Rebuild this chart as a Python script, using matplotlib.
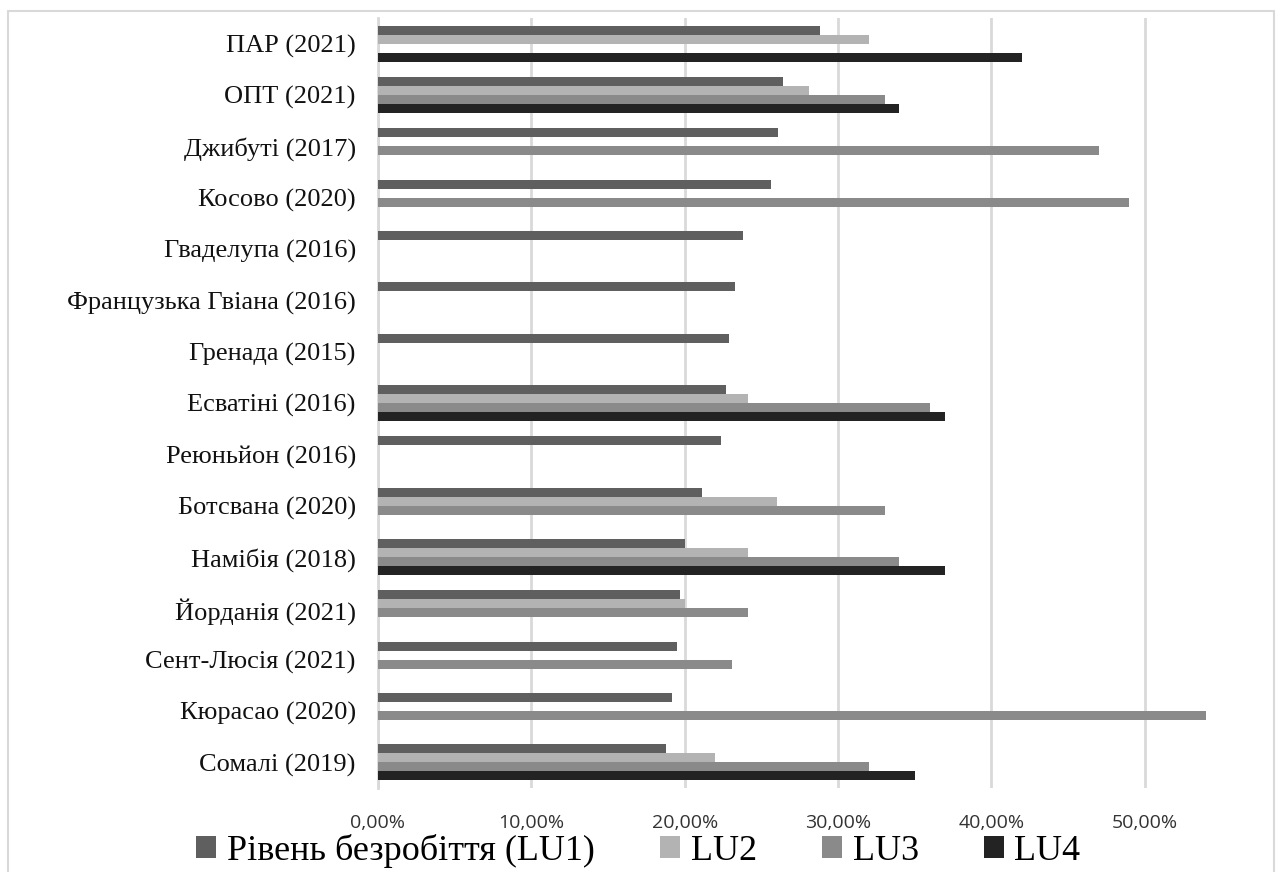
import matplotlib.pyplot as plt
import numpy as np
from matplotlib.patches import Rectangle, Patch
from matplotlib.ticker import FuncFormatter, MultipleLocator

# дані (частки), зверху вниз
countries = ["ПАР (2021)", "ОПТ (2021)", "Джибуті (2017)", "Косово (2020)",
             "Гваделупа (2016)", "Французька Гвіана (2016)", "Гренада (2015)",
             "Есватіні (2016)", "Реюньйон (2016)", "Ботсвана (2020)",
             "Намібія (2018)", "Йорданія (2021)", "Сент-Люсія (2021)",
             "Кюрасао (2020)", "Сомалі (2019)"]
nan = np.nan
lu1 = [0.288, 0.264, 0.261, 0.256, 0.238, 0.233, 0.229, 0.227, 0.224,
       0.211, 0.200, 0.197, 0.195, 0.192, 0.188]
lu2 = [0.320, 0.281, nan, nan, nan, nan, nan, 0.241, nan,
       0.260, 0.241, 0.200, nan, nan, 0.220]
lu3 = [nan, 0.331, 0.470, 0.490, nan, nan, nan, 0.360, nan,
       0.331, 0.340, 0.241, 0.231, 0.540, 0.320]
lu4 = [0.420, 0.340, nan, nan, nan, nan, nan, 0.370, nan,
       nan, 0.370, nan, nan, nan, 0.350]

series = [lu1, lu2, lu3, lu4]
names = ["Рівень безробіття (LU1)", "LU2", "LU3", "LU4"]
colors = ["#5f5f5f", "#b3b3b3", "#8a8a8a", "#232323"]

fig = plt.figure(figsize=(12.77, 8.72), dpi=100)
ax = fig.add_axes([378 / 1277, 1 - 788 / 872, (1255 - 378) / 1277, 770 / 872])

y = np.arange(len(countries))
h = 0.175
for k, (vals, col) in enumerate(zip(series, colors)):
    ax.barh(y + (k - 1.5) * h, vals, height=h, color=col, zorder=3)

ax.set_ylim(len(countries) - 0.5, -0.5)
ax.set_xlim(0, 0.572)
ax.set_yticks(y)
ax.set_yticklabels(countries, family="Liberation Serif", fontsize=19, color="#111111")
ax.xaxis.set_major_locator(MultipleLocator(0.1))
ax.xaxis.set_major_formatter(FuncFormatter(lambda v, p: f"{v * 100:.2f}%".replace(".", ",")))
for lab in ax.get_xticklabels():
    lab.set_family("Open Sans")
ax.tick_params(axis="x", length=0, pad=19, labelsize=14, labelcolor="#333333")
ax.tick_params(axis="y", length=0, pad=16)
ax.grid(axis="x", color="#d9d9d9", linewidth=2, zorder=0)
for s in ["top", "right", "bottom"]:
    ax.spines[s].set_visible(False)
ax.spines["left"].set_color("#d9d9d9")
ax.spines["left"].set_linewidth(2)

handles = [Patch(facecolor=c, edgecolor="none") for c in colors]
fig.legend(handles, names, loc="center", bbox_to_anchor=(0.5, 1 - 851 / 872), ncol=4,
           frameon=False, prop={"family": "Liberation Serif", "size": 26},
           handlelength=0.55, handleheight=0.55, handletextpad=0.3, columnspacing=1.8,
           borderpad=0, borderaxespad=0)

# рамка діаграми
fig.patches.append(Rectangle((8 / 1277, -0.01), 1266 / 1277, 1 - 11 / 872 + 0.01,
                             transform=fig.transFigure, fill=False,
                             edgecolor="#d9d9d9", linewidth=1.5))

fig.savefig("out.png", dpi=100, facecolor="white")
